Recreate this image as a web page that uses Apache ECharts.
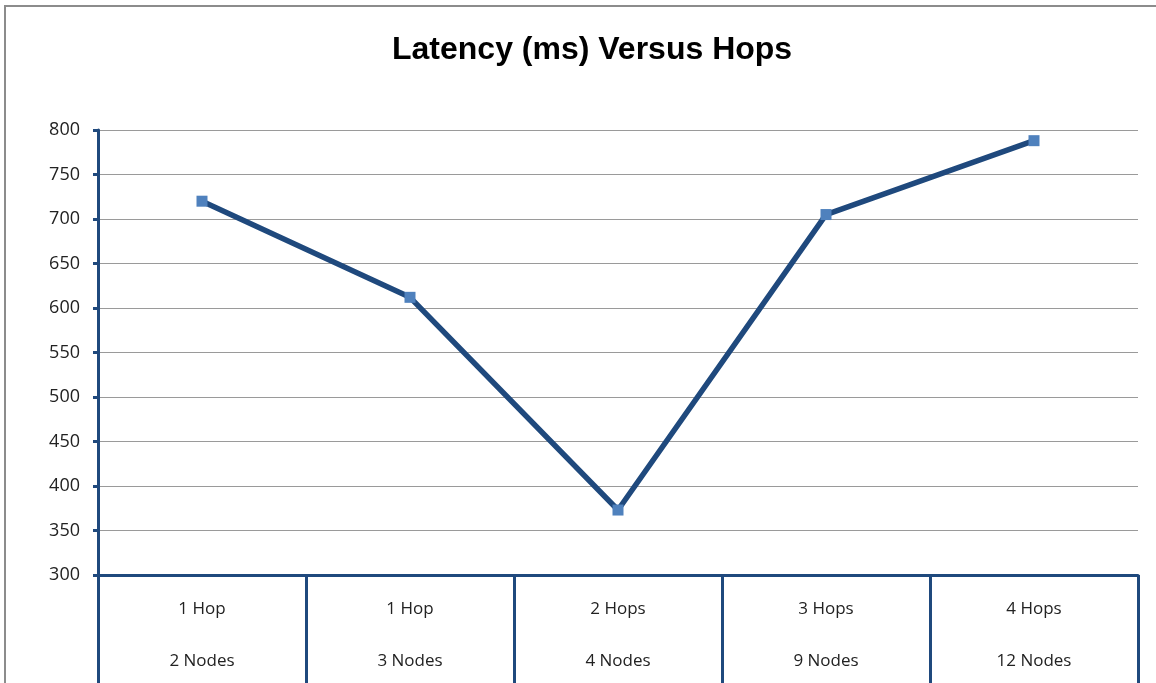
<!DOCTYPE html>
<html>
<head>
<meta charset="utf-8">
<script src="https://cdn.jsdelivr.net/npm/echarts@6/dist/echarts.min.js"></script>
<style>
    html, body { margin: 0; padding: 0; background: #fff; }
    #chart { width: 1156px; height: 683px; }
</style>
</head>
<body>
<div id="chart"></div>
<script>
// data
const hops = ['1 Hop', '1 Hop', '2 Hops', '3 Hops', '4 Hops']
const nodes = ['2 Nodes', '3 Nodes', '4 Nodes', '9 Nodes', '12 Nodes']
const latency = [720, 612, 373, 705, 788]

const categories = hops.map((h, i) => h + '\n' + nodes[i])

const axisBlue = '#1F497D'
const font = '"Open Sans", "DejaVu Sans", sans-serif'

const myChart = echarts.init(document.getElementById('chart'))

const option = {
    animation: false,
    title: {
        text: 'Latency (ms) Versus Hops',
        left: 387,
        top: 29,
        textStyle: {
            fontFamily: '"Liberation Sans", Arial, sans-serif',
            fontWeight: 'bold',
            fontSize: 32,
            color: '#000'
        }
    },
    graphic: [
        {
            type: 'rect',
            shape: { x: 5, y: 6, width: 1200, height: 720 },
            style: { fill: 'none', stroke: '#8c8c8c', lineWidth: 2 },
            silent: true
        }
    ],
    grid: {
        left: 98,
        right: 18,
        top: 130,
        bottom: 108,
        outerBoundsMode: 'none'
    },
    xAxis: {
        type: 'category',
        data: categories,
        boundaryGap: true,
        axisLine: { lineStyle: { color: axisBlue, width: 3 } },
        axisTick: {
            show: true,
            interval: 0,
            length: 112,
            lineStyle: { color: axisBlue, width: 3 }
        },
        axisLabel: {
            interval: 0,
            margin: 8,
            lineHeight: 52,
            fontSize: 17,
            fontFamily: font,
            color: '#222'
        }
    },
    yAxis: {
        type: 'value',
        min: 300,
        max: 800,
        interval: 50,
        axisLine: { show: true, lineStyle: { color: axisBlue, width: 3 } },
        axisTick: { show: true, length: 5, lineStyle: { color: axisBlue, width: 3 } },
        axisLabel: {
            margin: 18,
            fontSize: 18,
            fontFamily: font,
            color: '#222'
        },
        splitLine: { lineStyle: { color: '#9a9a9a', width: 1 } }
    },
    series: [
        {
            type: 'line',
            data: latency,
            symbol: 'rect',
            symbolSize: 11,
            lineStyle: { color: axisBlue, width: 5.5 },
            itemStyle: { color: '#4F81BD' },
            z: 3
        }
    ]
}

myChart.setOption(option)
</script>
</body>
</html>
